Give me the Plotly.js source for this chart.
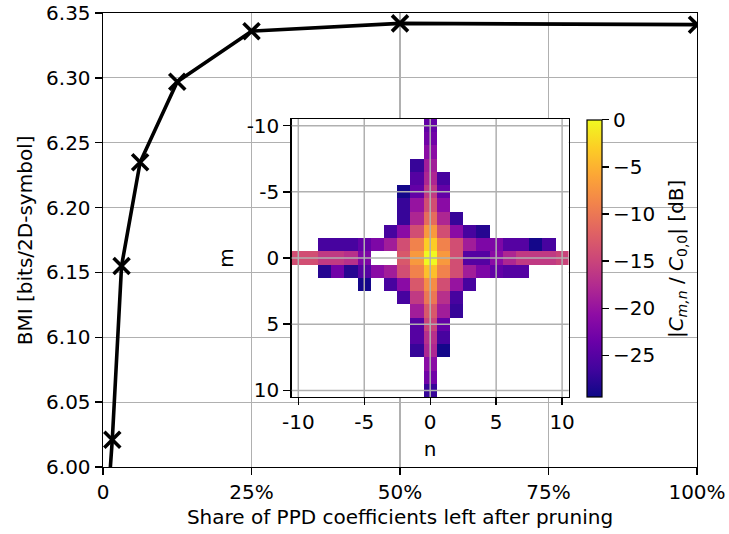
<!DOCTYPE html>
<html>
<head>
<meta charset="utf-8">
<script src="https://cdn.plot.ly/plotly-3.0.1.min.js"></script>
<style>
  html, body { margin: 0; padding: 0; background: #ffffff; }
  #chart { width: 729px; height: 534px; }
</style>
</head>
<body>
<div id="chart"></div>
<script>
// ---- main curve data ----
const shareLeft = [0.78125, 1.5625, 3.125, 6.25, 12.5, 25, 50, 100];
const bmiValues = [5.970, 6.021, 6.155, 6.235, 6.297, 6.336, 6.342, 6.341];
const xTickVals = [0, 25, 50, 75, 100];
const xTickText = ["0", "25%", "50%", "75%", "100%"];
const yLabel = "BMI [bits/2D-symbol]";

// ---- inset heatmap data ----
const nVals = [-10,-9,-8,-7,-6,-5,-4,-3,-2,-1,0,1,2,3,4,5,6,7,8,9,10];
const mVals = [-10,-9,-8,-7,-6,-5,-4,-3,-2,-1,0,1,2,3,4,5,6,7,8,9,10];
const N = null;
const coeffDb = [
  [N,N,N,N,N,N,N,N,N,N,-24,N,N,N,N,N,N,N,N,N,N],
  [N,N,N,N,N,N,N,N,N,N,-23,N,N,N,N,N,N,N,N,N,N],
  [N,N,N,N,N,N,N,N,N,N,-21,N,N,N,N,N,N,N,N,N,N],
  [N,N,N,N,N,N,N,N,N,-27,-19,N,N,N,N,N,N,N,N,N,N],
  [N,N,N,N,N,N,N,N,N,-25,-18,-26,N,N,N,N,N,N,N,N,N],
  [N,N,N,N,N,N,N,N,-29,-24,-16,-24,N,N,N,N,N,N,N,N,N],
  [N,N,N,N,N,N,N,N,-27,-20,-14,-21,N,N,N,N,N,N,N,N,N],
  [N,N,N,N,N,N,N,N,-27,-18,-11,-18,-27,N,N,N,N,N,N,N,N],
  [N,N,N,N,N,N,N,-26,-21,-14,-7,-14,-21,-26,-28,N,N,N,N,N,N],
  [N,N,-26,-26,-26,-24,-22,-19,-14,-9,-3,-9,-14,-19,-22,-22,-25,-25,-29,-26,N],
  [-14,-14,-16,-16,-17,-22,N,N,-13,-7,0,-7,-14,-25,-25,-21,-18,-16,-16,-16,-15],
  [N,N,-28,-23,-28,-25,-21,-19,-14,-9,-4,-9,-14,-19,-22,-24,-25,-25,N,N,N],
  [N,N,N,N,N,-29,N,-26,-21,-13,-8,-14,-20,-26,N,N,N,N,N,N,N],
  [N,N,N,N,N,N,N,N,-26,-16,-10,-17,-26,N,N,N,N,N,N,N,N],
  [N,N,N,N,N,N,N,N,N,-19,-13,-19,-27,N,N,N,N,N,N,N,N],
  [N,N,N,N,N,N,N,N,N,-25,-15,-24,N,N,N,N,N,N,N,N,N],
  [N,N,N,N,N,N,N,N,N,-25,-17,-26,N,N,N,N,N,N,N,N,N],
  [N,N,N,N,N,N,N,N,N,-27,-18,-29,N,N,N,N,N,N,N,N,N],
  [N,N,N,N,N,N,N,N,N,N,-21,N,N,N,N,N,N,N,N,N,N],
  [N,N,N,N,N,N,N,N,N,N,-23,N,N,N,N,N,N,N,N,N,N],
  [N,N,N,N,N,N,N,N,N,N,-27,N,N,N,N,N,N,N,N,N,N]
];
const insetTickVals = [-10, -5, 0, 5, 10];
const insetTickText = ["-10", "-5", "0", "5", "10"];
const cbTickVals = [0, -5, -10, -15, -20, -25];
const cbLabel = "|<i>C</i><sub><i>m,n</i></sub> / <i>C</i><sub>0,0</sub>| [dB]";

// matplotlib "plasma" colormap stops
const plasma = [
  [0.0, "#0d0887"], [0.1, "#41049d"], [0.2, "#6a00a8"], [0.3, "#8f0da4"],
  [0.4, "#b12a90"], [0.5, "#cc4778"], [0.6, "#e16462"], [0.7, "#f2844b"],
  [0.8, "#fca636"], [0.9, "#fcce25"], [1.0, "#f0f921"]
];

const FONT = "DejaVu Sans, sans-serif";
const FS = 20;
const GRID = "#b0b0b0";

const lineTrace = {
  type: "scatter", mode: "lines+markers",
  x: shareLeft, y: bmiValues,
  xaxis: "x", yaxis: "y",
  line: {color: "#000000", width: 3.6},
  marker: {symbol: "x-thin-open", size: 16, color: "#000000", line: {color: "#000000", width: 3.6}},
  cliponaxis: true, hoverinfo: "skip", showlegend: false
};

const heatTrace = {
  type: "heatmap",
  x: nVals, y: mVals, z: coeffDb,
  xaxis: "x2", yaxis: "y2",
  colorscale: plasma, zmin: -29.4, zmax: 0,
  hoverinfo: "skip",
  colorbar: {
    x: 0.815, xanchor: "left", xpad: 0,
    y: 0.4597, yanchor: "middle", ypad: 0,
    len: 0.6095, lenmode: "fraction",
    thickness: 15, outlinewidth: 1.2, outlinecolor: "#000000",
    ticks: "outside", ticklen: 7, tickwidth: 1.3, tickcolor: "#000000",
    tickvals: cbTickVals,
    tickfont: {family: FONT, size: FS, color: "#000000"}
  }
};

// gridlines of the inset drawn above the heatmap
const shapes = [];
insetTickVals.forEach(v => {
  shapes.push({type: "line", layer: "above", xref: "x2", yref: "y2 domain",
    x0: v, x1: v, y0: 0, y1: 1, line: {color: GRID, width: 1.5}});
  shapes.push({type: "line", layer: "above", xref: "x2 domain", yref: "y2",
    x0: 0, x1: 1, y0: v, y1: v, line: {color: GRID, width: 1.5}});
});

const axisCommon = {
  showline: true, linecolor: "#000000", linewidth: 1.4, mirror: true,
  ticks: "outside", ticklen: 7, tickwidth: 1.4, tickcolor: "#000000",
  zeroline: false,
  tickfont: {family: FONT, size: FS, color: "#000000"}
};

const layout = {
  width: 729, height: 534,
  margin: {l: 103, r: 32, t: 13, b: 67},
  paper_bgcolor: "#ffffff", plot_bgcolor: "#ffffff",
  font: {family: FONT, size: FS, color: "#000000"},
  showlegend: false,
  xaxis: Object.assign({}, axisCommon, {
    domain: [0, 1], range: [0, 100],
    tickvals: xTickVals, ticktext: xTickText,
    showgrid: true, gridcolor: GRID, gridwidth: 1.2,
    title: {text: "Share of PPD coefficients left after pruning", font: {family: FONT, size: FS}, standoff: 6}
  }),
  yaxis: Object.assign({}, axisCommon, {
    domain: [0, 1], range: [6.0, 6.35], dtick: 0.05, tick0: 6.0, tickformat: ".2f",
    showgrid: true, gridcolor: GRID, gridwidth: 1.2
  }),
  xaxis2: Object.assign({}, axisCommon, {
    domain: [0.3177, 0.784], anchor: "y2", range: [-10.5, 10.5],
    tickvals: insetTickVals, ticktext: insetTickText, showgrid: false,
    title: {text: "n", font: {family: FONT, size: FS}, standoff: 8}
  }),
  yaxis2: Object.assign({}, axisCommon, {
    domain: [0.1542, 0.7665], anchor: "x2", range: [10.5, -10.5],
    tickvals: insetTickVals, ticktext: insetTickText, showgrid: false,
    title: {text: "m", font: {family: FONT, size: FS}, standoff: 7}
  }),
  annotations: [
    {
      text: yLabel, textangle: -90, showarrow: false,
      xref: "paper", yref: "paper", x: -0.131, y: 0.5,
      xanchor: "center", yanchor: "middle",
      font: {family: FONT, size: FS, color: "#000000"}
    },
    {
      text: cbLabel, textangle: -90, showarrow: false,
      xref: "paper", yref: "paper", x: 0.966, y: 0.4597,
      xanchor: "center", yanchor: "middle",
      font: {family: FONT, size: FS, color: "#000000"}
    }
  ],
  shapes: shapes
};

Plotly.newPlot("chart", [lineTrace, heatTrace], layout, {staticPlot: true, displayModeBar: false});
</script>
</body>
</html>
